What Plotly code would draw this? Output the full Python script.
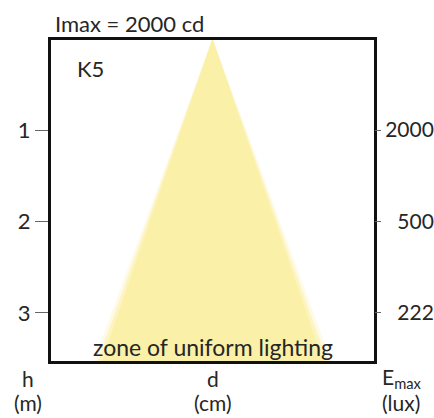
import plotly.graph_objects as go

# ---- data ----
cone_h = [0.0, 3.6]            # mounting height (m) along the beam
cone_half_width = [0.0, 112.0]  # half beam width d/2 (cm)
h_ticks = [1, 2, 3]
h_tick_labels = ["1", "2", "3"]
emax_labels = ["2000", "500", "222"]  # lux at h = 1, 2, 3
title_text = "Imax = 2000 cd"
model_text = "K5"
zone_text = "zone of uniform lighting"

FONT = "Lato"
FS = 22
TXT = "#262626"
YEL = "rgb(251,240,168)"

fig = go.Figure()

# soft halo + core of the light cone
for extra, col in [(8, "rgba(251,240,168,0.3)"), (4, "rgba(251,240,168,0.6)"), (0, YEL)]:
    xs = [-(cone_half_width[1] + extra), cone_half_width[0], cone_half_width[1] + extra]
    ys = [cone_h[1], cone_h[0], cone_h[1]]
    fig.add_trace(go.Scatter(x=xs, y=ys, fill="toself", fillcolor=col, mode="lines",
                             line=dict(width=0), hoverinfo="skip", showlegend=False))

# invisible trace to activate y2
maxlen = max(len(s) for s in emax_labels)
right_text = ["\u2007" * (maxlen - len(s)) + s for s in emax_labels]
fig.add_trace(go.Scatter(x=[0], y=[1], yaxis="y2", mode="markers",
                         marker=dict(opacity=0), hoverinfo="skip", showlegend=False))

yr = [3.525, 0.016]
fig.update_layout(
    template="none",
    width=434, height=418,
    margin=dict(l=51, r=60, t=40, b=57, autoexpand=False),
    paper_bgcolor="white", plot_bgcolor="white",
    font=dict(family=FONT, size=FS, color=TXT),
    xaxis=dict(range=[-160, 160], showgrid=False, zeroline=False, showticklabels=False,
               ticks="", showline=True, linecolor="#111", linewidth=3, mirror=True,
               automargin=False),
    yaxis=dict(range=yr, showgrid=False, zeroline=False, tickvals=h_ticks, ticktext=h_tick_labels,
               ticks="outside", ticklen=13, tickwidth=1, tickcolor="#666",
               ticklabelstandoff=0, automargin=False,
               showline=True, linecolor="#111", linewidth=3, mirror=True),
    yaxis2=dict(range=yr, overlaying="y", side="right", showgrid=False, zeroline=False,
                tickvals=h_ticks, ticktext=right_text, automargin=False,
                ticks="outside", ticklen=6, tickwidth=1, tickcolor="#666",
                tickfont=dict(size=21), ticklabelstandoff=0,
                showline=False),
)

ann = []
ann.append(dict(text=title_text, xref="paper", yref="paper", x=0.006, y=1.0, xanchor="left",
                yanchor="bottom", yshift=1, showarrow=False))
ann.append(dict(text=model_text, xref="paper", yref="paper", x=0.075, y=0.91, xanchor="left",
                yanchor="middle", showarrow=False))
ann.append(dict(text=zone_text, xref="x", yref="paper", x=0, y=0.045, xanchor="center",
                yanchor="middle", showarrow=False, font=dict(size=23)))

# bottom axis captions (symbol line + unit line)
captions = [
    (dict(xref="paper", x=-0.07, xanchor="center"), "h", "(m)"),
    (dict(xref="x", x=0, xanchor="center"), "d", "(cm)"),
    (dict(xref="paper", x=1.0186, xanchor="left"), "E<sub>max</sub>", "(lux)"),
]
for pos, sym, unit in captions:
    ann.append(dict(text=sym, yref="paper", y=0.0, yanchor="middle", yshift=-17,
                    showarrow=False, font=dict(size=21), **pos))
    ann.append(dict(text=unit, yref="paper", y=0.0, yanchor="middle", yshift=-41,
                    showarrow=False, font=dict(size=21), **pos))
fig.update_layout(annotations=ann)

fig.write_html("out.html", post_script="document.body.style.margin='0';",
               config={"displayModeBar": False})
